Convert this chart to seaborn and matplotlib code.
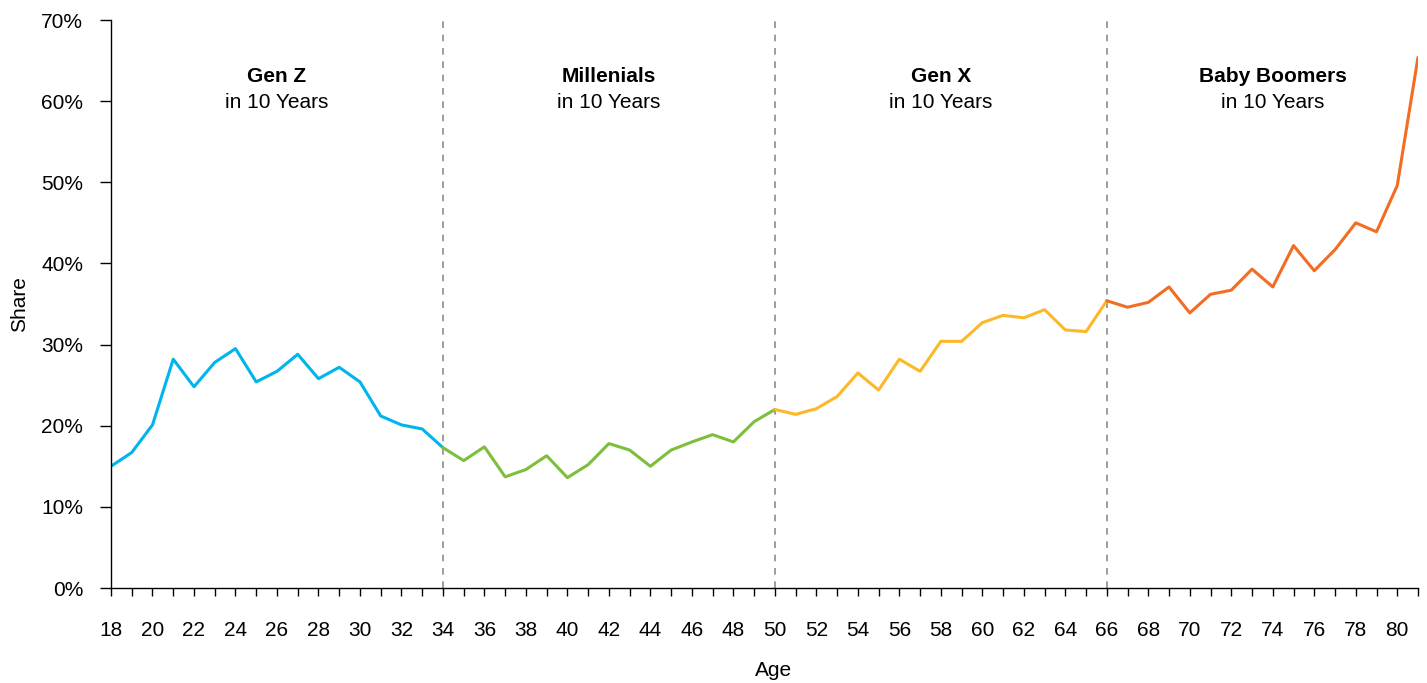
import numpy as np
import pandas as pd
import matplotlib
matplotlib.use("Agg")
import matplotlib.pyplot as plt
import seaborn as sns
from matplotlib.ticker import PercentFormatter

# --- 데이터 ---
ages = list(range(18, 82))
share = [
    15.0, 16.7, 20.1, 28.2, 24.8, 27.8, 29.5, 25.4, 26.7, 28.8, 25.8, 27.2, 25.4, 21.2, 20.1, 19.6,  # 18-33
    17.3, 15.7, 17.4, 13.7, 14.6, 16.3, 13.6, 15.2, 17.8, 17.0, 15.0, 17.0, 18.0, 18.9, 18.0, 20.5,  # 34-49
    22.0, 21.4, 22.1, 23.6, 26.5, 24.4, 28.2, 26.7, 30.4, 30.4, 32.7, 33.6, 33.3, 34.3, 31.8, 31.6,  # 50-65
    35.4, 34.6, 35.2, 37.1, 33.9, 36.2, 36.7, 39.3, 37.1, 42.2, 39.1, 41.7, 45.0, 43.9, 49.6, 65.4,  # 66-81
]
generations = ["Gen Z", "Millenials", "Gen X", "Baby Boomers"]
gen_start = [18, 34, 50, 66]
gen_end = [34, 50, 66, 81]
gen_colors = ["#00B4EC", "#7DBE3C", "#FDB827", "#F26C23"]
label_age = [26, 42, 58, 74]

# 세대별 구간 (경계 지점은 두 구간이 공유)
rows = []
for g, s, e in zip(generations, gen_start, gen_end):
    for a, v in zip(ages, share):
        if s <= a <= e:
            rows.append({"Age": a, "Share": v, "gen": g})
df = pd.DataFrame(rows)

sns.set_style("ticks")
plt.rcParams["font.family"] = ["Liberation Sans", "DejaVu Sans"]
plt.rcParams["text.color"] = "black"
plt.rcParams["axes.labelcolor"] = "black"
plt.rcParams["xtick.color"] = "black"
plt.rcParams["ytick.color"] = "black"

FS = 15

fig = plt.figure(figsize=(14.27, 6.83), dpi=100)
ax = fig.add_axes([111 / 1427, 1 - 588 / 683, (1418 - 111) / 1427, (588 - 20) / 683])

sns.lineplot(data=df, x="Age", y="Share", hue="gen", hue_order=generations,
             palette=dict(zip(generations, gen_colors)), estimator=None,
             linewidth=2.2, legend=False, ax=ax)

for b in gen_start[1:]:
    ax.axvline(b, ymin=0, ymax=1, color="#8C8C8C", linestyle=(0, (4, 4)), linewidth=1.2, zorder=0)

for g, xa in zip(generations, label_age):
    ax.text(xa, 63.0, g, ha="center", va="center", fontsize=FS, fontweight="bold")
    ax.text(xa, 59.8, "in 10 Years", ha="center", va="center", fontsize=FS)

ax.set_xlim(18, 81)
ax.set_ylim(0, 70)
ax.set_xticks(range(18, 82))
ax.set_xticklabels([str(a) if a % 2 == 0 else "" for a in range(18, 82)])
ax.set_yticks(range(0, 71, 10))
ax.yaxis.set_major_formatter(PercentFormatter(decimals=0))
ax.tick_params(axis="both", labelsize=FS, width=1)
ax.tick_params(axis="x", length=6, pad=18)
ax.tick_params(axis="y", length=8, pad=12)

for s in ["top", "right"]:
    ax.spines[s].set_visible(False)
for s in ["left", "bottom"]:
    ax.spines[s].set_color("black")
    ax.spines[s].set_linewidth(1)

ax.set_xlabel("Age", fontsize=FS)
ax.set_ylabel("Share", fontsize=FS, labelpad=9)
ax.xaxis.set_label_coords(0.507, -0.128)

fig.savefig("out.png", dpi=100)
